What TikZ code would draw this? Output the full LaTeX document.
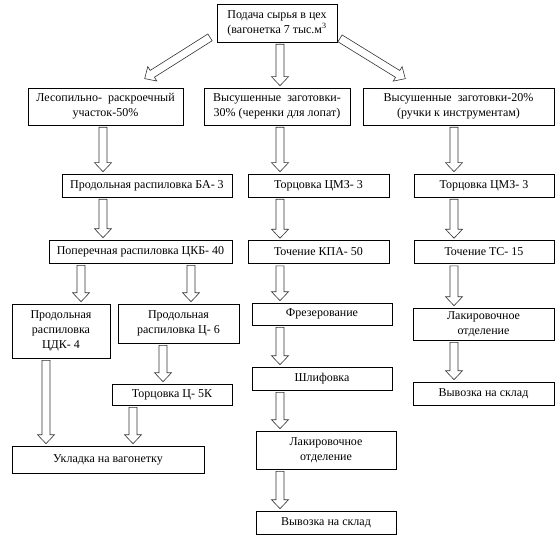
\documentclass[tikz,border=0pt]{standalone}
\usepackage{fontspec}
\setmainfont{Liberation Serif}
\usetikzlibrary{calc,positioning}
\tikzset{
  box/.style={draw,line width=0.6pt,inner sep=1pt,align=center,font=\fontsize{12}{15}\selectfont},
  barr/.style={draw=black!80,fill=white,line width=0.6pt,line join=miter},
}
\newcommand{\blk}[2]{%
  \coordinate (ba) at ($(#1)!2pt!(#2)$);
  \coordinate (bt) at ($(#2)!2pt!(#1)$);
  \coordinate (bb) at ($(bt)!9pt!(ba)$);
  \draw[barr] ($(ba)!4pt!90:(bt)$) -- ($(bb)!4pt!90:(bt)$) -- ($(bb)!8.5pt!90:(bt)$) -- (bt)
    -- ($(bb)!8.5pt!-90:(bt)$) -- ($(bb)!4pt!-90:(bt)$) -- ($(ba)!4pt!-90:(bt)$) -- cycle;}

\begin{document}
\begin{tikzpicture}[x=1pt,y=-1pt]
\useasboundingbox (0,0) rectangle (556,537);
\node[box,minimum width=120,minimum height=38] (top) at (277,23) {Подача сырья в цех\\(вагонетка 7 тыс.м\textsuperscript{3}};
\node[box,minimum width=155,minimum height=37] (boxa) at (105.5,106.5) {Лесопильно-\ \ раскроечный\\участок-50\%};
\node[box,minimum width=146,minimum height=37] (boxb) at (277,106.5) {Высушенные\ \ заготовки-\\30\% (черенки для лопат)};
\node[box,minimum width=191,minimum height=37] (boxc) at (458.5,106.5) {Высушенные\ \ заготовки-20\%\\(ручки к инструментам)};
\node[box,minimum width=170,minimum height=23] (l3) at (147,185.5) {Продольная распиловка БА- 3};
\node[box,minimum width=141,minimum height=23] (m3) at (318.5,185.5) {Торцовка ЦМЗ- 3};
\node[box,minimum width=140,minimum height=23] (r3) at (484,185.5) {Торцовка ЦМЗ- 3};
\node[box,minimum width=183,minimum height=23] (l4) at (140.5,251.5) {Поперечная распиловка ЦКБ- 40};
\node[box,minimum width=141,minimum height=23] (m4) at (318.5,252) {Точение КПА- 50};
\node[box,minimum width=140,minimum height=23] (r4) at (484,252) {Точение ТС- 15};
\node[box,minimum width=98,minimum height=54] (l5a) at (61,331) {Продольная\\распиловка\\ЦДК- 4};
\node[box,minimum width=121,minimum height=39] (l5b) at (178.5,323.5) {Продольная\\распиловка Ц- 6};
\node[box,minimum width=140,minimum height=22] (m5) at (322,314) {Фрезерование};
\node[box,minimum width=141,minimum height=32] (r5) at (483.5,324) {Лакировочное\\отделение};
\node[box,minimum width=120,minimum height=21] (l6) at (172,394.5) {Торцовка Ц- 5К};
\node[box,minimum width=140,minimum height=23] (m6) at (322,378.5) {Шлифовка};
\node[box,minimum width=141,minimum height=23] (r6) at (483.5,393.5) {Вывозка на склад};
\node[box,minimum width=192,minimum height=27] (l7) at (108,459.5) {Укладка на вагонетку};
\node[box,minimum width=140,minimum height=38] (m7) at (326,450) {Лакировочное\\отделение};
\node[box,minimum width=140,minimum height=23] (m8) at (326,522.5) {Вывозка на склад};
\coordinate (cl) at (103,0);
\coordinate (cm) at (280,0);
\coordinate (cr) at (454,0);
\coordinate (cla) at (81,0);
\coordinate (clb) at (191,0);
\coordinate (cld) at (46,0);
\coordinate (cle) at (163,0);
\coordinate (clf) at (133,0);
\coordinate (dl0) at ($(top.south west)+(-5,-6)$);
\coordinate (dl1) at ($(boxa.north)+(37.5,-8)$);
\coordinate (dr0) at ($(top.south east)+(1,-5)$);
\coordinate (dr1) at ($(boxc.north)+(-51.5,-8)$);
\blk{dl0}{dl1}
\blk{dr0}{dr1}
\blk{top.south -| cm}{boxb.north -| cm}
\blk{boxa.south -| cl}{l3.north -| cl}
\blk{l3.south -| cl}{l4.north -| cl}
\blk{boxb.south -| cm}{m3.north -| cm}
\blk{m3.south -| cm}{m4.north -| cm}
\blk{boxc.south -| cr}{r3.north -| cr}
\blk{r3.south -| cr}{r4.north -| cr}
\blk{l4.south -| cla}{l5a.north -| cla}
\blk{l4.south -| clb}{l5b.north -| clb}
\blk{m4.south -| cm}{m5.north -| cm}
\blk{r4.south -| cr}{r5.north -| cr}
\blk{l5a.south -| cld}{l7.north -| cld}
\blk{l5b.south -| cle}{l6.north -| cle}
\blk{l6.south -| clf}{l7.north -| clf}
\blk{m5.south -| cm}{m6.north -| cm}
\blk{m6.south -| cm}{m7.north -| cm}
\blk{m7.south -| cm}{m8.north -| cm}
\blk{r5.south -| cr}{r6.north -| cr}
\end{tikzpicture}
\end{document}
